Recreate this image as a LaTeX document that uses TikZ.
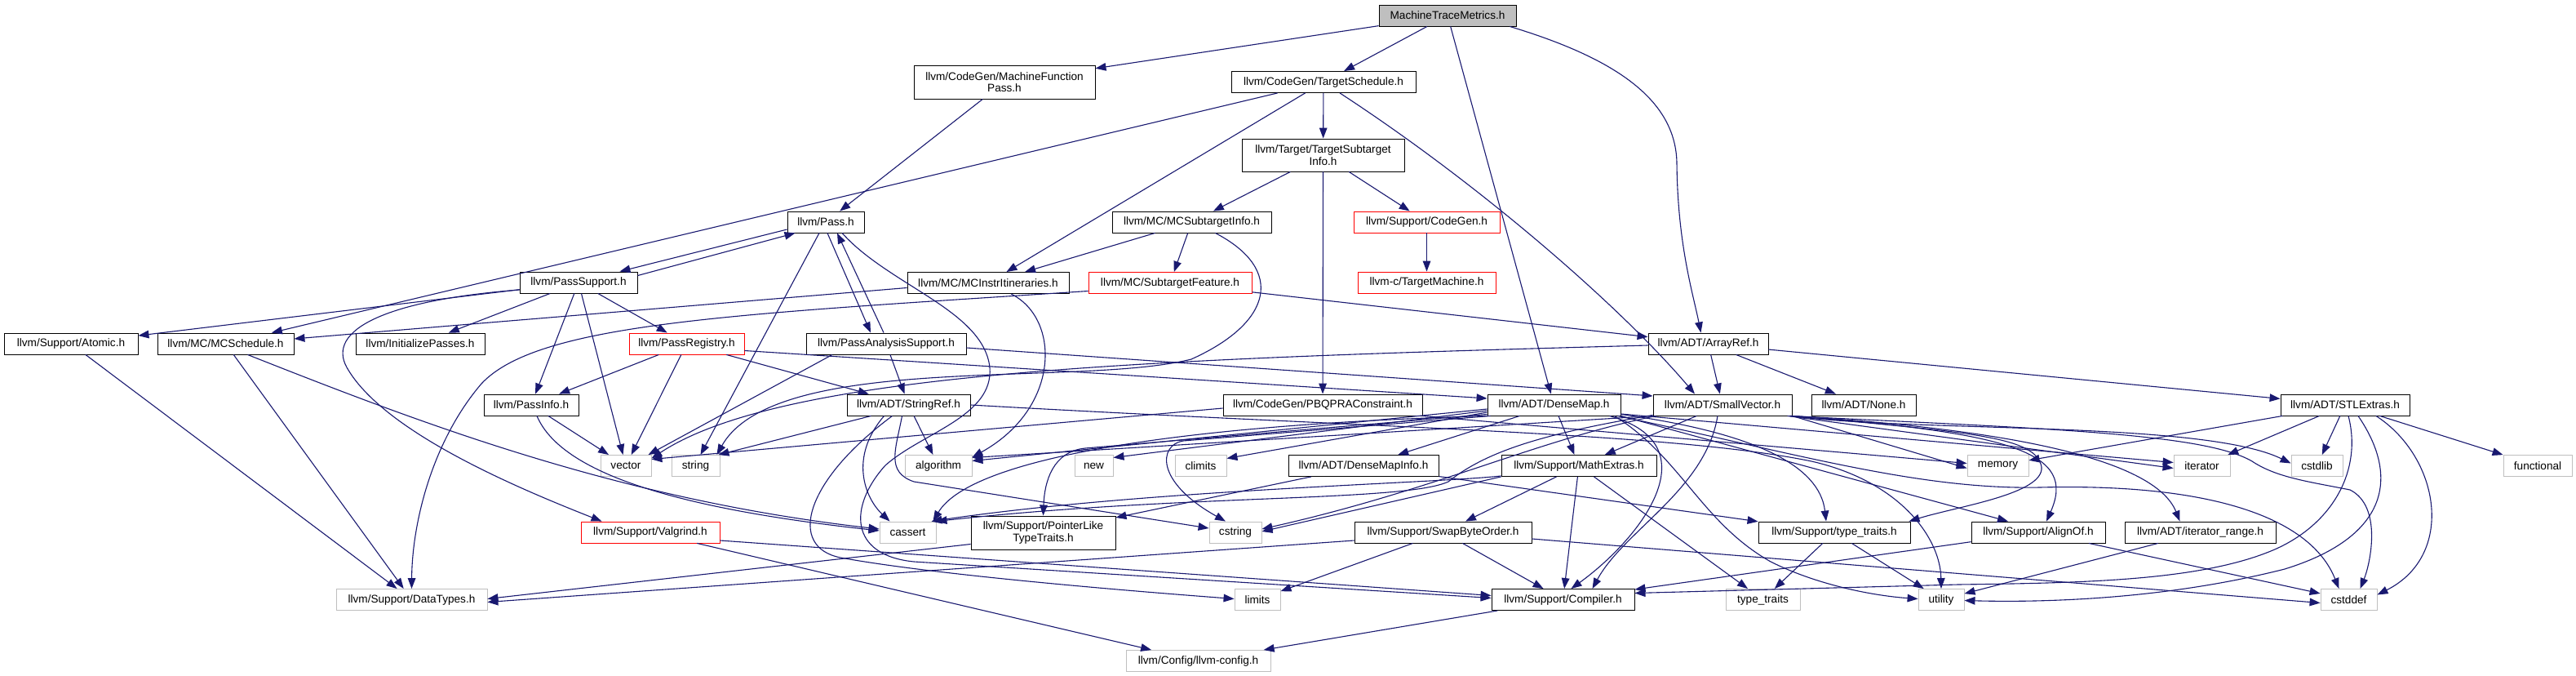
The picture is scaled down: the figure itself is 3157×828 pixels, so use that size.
\documentclass[tikz,border=0pt]{standalone}
\usepackage{fontspec}
\setmainfont{Liberation Sans}
\usetikzlibrary{arrows.meta,calc}
\definecolor{eblue}{HTML}{191970}
\definecolor{gborder}{HTML}{BFBFBF}
\definecolor{rborder}{HTML}{FF0000}
\definecolor{rootfill}{HTML}{BFBFBF}
\begin{document}
\begin{tikzpicture}[x=0.5pt,y=-0.5pt,
  box/.style={draw=black, line width=0.45pt, fill=white, rectangle, inner sep=0pt, align=center, minimum height=13pt, font=\fontsize{6.8}{7.2}\selectfont},
  redbox/.style={box, draw=rborder},
  sysbox/.style={box, draw=gborder},
  rootbox/.style={box, fill=rootfill},
  arr/.style={draw=eblue, line width=0.55pt, -{Triangle[length=6.5pt,width=4.8pt]}}]
\useasboundingbox (0,0) rectangle (3157,828);
% ---------------- nodes ----------------
\node[rootbox, minimum width=84pt] (mtm) at (1774,19) {MachineTraceMetrics.h};
\node[box, minimum width=111pt, minimum height=20.5pt] (mfp) at (1231,100.5) {llvm/CodeGen/MachineFunction\\Pass.h};
\node[box, minimum width=113pt] (ts) at (1622,100.5) {llvm/CodeGen/TargetSchedule.h};
\node[box, minimum width=99.5pt, minimum height=20pt] (tsi) at (1621.5,190) {llvm/Target/TargetSubtarget\\Info.h};
\node[box, minimum width=47pt] (pass) at (1012,272) {llvm/Pass.h};
\node[box, minimum width=97.5pt] (mcsi) at (1460.5,272) {llvm/MC/MCSubtargetInfo.h};
\node[redbox, minimum width=89.5pt] (cg) at (1748.5,272) {llvm/Support/CodeGen.h};
\node[box, minimum width=72pt] (ps) at (709,346) {llvm/PassSupport.h};
\node[box, minimum width=99pt] (mcii) at (1211,346.5) {llvm/MC/MCInstrItineraries.h};
\node[redbox, minimum width=100pt] (stf) at (1434,346.5) {llvm/MC/SubtargetFeature.h};
\node[redbox, minimum width=84.5pt] (tm) at (1748.5,346) {llvm-c/TargetMachine.h};
\node[box, minimum width=82pt] (atomic) at (87,421) {llvm/Support/Atomic.h};
\node[box, minimum width=83.5pt] (mcs) at (276.5,421) {llvm/MC/MCSchedule.h};
\node[box, minimum width=79pt] (ip) at (515,421) {llvm/InitializePasses.h};
\node[redbox, minimum width=70.5pt] (preg) at (841.5,421) {llvm/PassRegistry.h};
\node[box, minimum width=98pt] (pas) at (1086,421) {llvm/PassAnalysisSupport.h};
\node[box, minimum width=73.5pt] (ar) at (2093.5,421) {llvm/ADT/ArrayRef.h};
\node[box, minimum width=79pt] (stl) at (2874,496) {llvm/ADT/STLExtras.h};
\node[box, minimum width=58pt] (pi) at (651,496) {llvm/PassInfo.h};
\node[box, minimum width=75.5pt] (sr) at (1113.5,496) {llvm/ADT/StringRef.h};
\node[box, minimum width=122pt] (pbqp) at (1621,496) {llvm/CodeGen/PBQPRAConstraint.h};
\node[box, minimum width=81.5pt] (dm) at (1904.5,496) {llvm/ADT/DenseMap.h};
\node[box, minimum width=85pt] (sv) at (2111,496) {llvm/ADT/SmallVector.h};
\node[box, minimum width=64pt] (none) at (2284,496) {llvm/ADT/None.h};
\node[sysbox, minimum width=31pt] (vector) at (767,570.5) {vector};
\node[sysbox, minimum width=29.5pt] (string) at (852.5,570.5) {string};
\node[sysbox, minimum width=41pt] (algorithm) at (1150,570.5) {algorithm};
\node[sysbox, minimum width=23.5pt] (new) at (1340.5,570.5) {new};
\node[sysbox, minimum width=31.5pt] (climits) at (1471.5,570.5) {climits};
\node[box, minimum width=92pt] (dmi) at (1671,570.5) {llvm/ADT/DenseMapInfo.h};
\node[box, minimum width=95pt] (me) at (1935,570.5) {llvm/Support/MathExtras.h};
\node[sysbox, minimum width=37.5pt] (memory) at (2448.5,570.5) {memory};
\node[sysbox, minimum width=34.5pt] (iterator) at (2698.5,570.5) {iterator};
\node[sysbox, minimum width=31.5pt] (cstdlib) at (2839.5,570.5) {cstdlib};
\node[sysbox, minimum width=42pt] (functional) at (3110,570.5) {functional};
\node[redbox, minimum width=85pt] (valgrind) at (797,652) {llvm/Support/Valgrind.h};
\node[sysbox, minimum width=34.5pt] (cassert) at (1112.5,652) {cassert};
\node[box, minimum width=88.5pt, minimum height=20.5pt] (pltt) at (1278.5,652.5) {llvm/Support/PointerLike\\TypeTraits.h};
\node[sysbox, minimum width=32pt] (cstring) at (1514,652) {cstring};
\node[box, minimum width=108.5pt] (sbo) at (1768.5,652) {llvm/Support/SwapByteOrder.h};
\node[box, minimum width=93pt] (stt) at (2248,652) {llvm/Support/type\_traits.h};
\node[box, minimum width=82pt] (align) at (2498,652) {llvm/Support/AlignOf.h};
\node[box, minimum width=92.5pt] (itr) at (2696.5,652) {llvm/ADT/iterator\_range.h};
\node[sysbox, minimum width=92.5pt] (dt) at (504.5,734.5) {llvm/Support/DataTypes.h};
\node[sysbox, minimum width=28pt] (limits) at (1541,734.5) {limits};
\node[box, minimum width=87.5pt] (comp) at (1915.5,734.5) {llvm/Support/Compiler.h};
\node[sysbox, minimum width=45.5pt] (tt) at (2160.5,734.5) {type\_traits};
\node[sysbox, minimum width=28pt] (utility) at (2379,734.5) {utility};
\node[sysbox, minimum width=34.5pt] (cstddef) at (2878.5,734.5) {cstddef};
\node[sysbox, minimum width=88.5pt] (cfg) at (1468.5,809.5) {llvm/Config/llvm-config.h};
% ---------------- edges ----------------
% MachineTraceMetrics
\draw[arr] (mtm) -- (mfp);
\draw[arr] (mtm) -- (ts);
\draw[arr] (mtm) -- (dm);
\draw[arr] (mtm.-10) .. controls (1975,70) and (2054,120) .. (2055,200) .. controls (2056,300) and (2075,360) .. ($(ar.north)+(-9,0)$);
% MachineFunctionPass
\draw[arr] (mfp) -- (pass);
% TargetSchedule
\draw[arr] (ts) -- (mcs);
\draw[arr] (ts) -- (mcii);
\draw[arr] (ts) -- (tsi);
\draw[arr] ($(ts.south)+(20,0)$) .. controls (1820,230) and (1990,380) .. ($(sv.north)+(-34,0)$);
% TargetSubtargetInfo
\draw[arr] (tsi) -- (mcsi);
\draw[arr] (tsi) -- (cg);
\draw[arr] (tsi) -- (pbqp);
\draw[arr] (cg) -- (tm);
% Pass
\draw[arr] ($(pass.west)+(0,9)$) -- ($(ps.north east)+(-22,0)$);
\draw[arr] ($(ps.north east)+(0,5)$) -- ($(pass.south west)+(10,0)$);
\draw[arr] ($(pass.south)+(2,0)$) -- ($(pas.north)+(-19,0)$);
\draw[arr] ($(pas.north)+(-3,0)$) -- ($(pass.south)+(14,0)$);
\draw[arr] ($(pass.south)+(-8,0)$) -- ($(string.north)+(6,0)$);
\draw[arr] ($(pass.south)+(20,0)$) .. controls (1090,350) and (1205,380) .. (1213,450) .. controls (1218,510) and (1130,530) .. (1085,570) .. controls (1040,620) and (1040,680) .. (1120,688) -- ($(comp.west)+(0,-2)$);
% PassSupport
\draw[arr] (ps) -- (atomic);
\draw[arr] ($(ps.west)+(0,9)$) .. controls (470,368) and (400,405) .. (425,450) .. controls (470,530) and (640,600) .. ($(valgrind.north west)+(26,0)$);
\draw[arr] (ps) -- (ip);
\draw[arr] (ps) -- (pi);
\draw[arr] (ps) -- (vector);
\draw[arr] (ps) -- (preg);
% MCSubtargetInfo
\draw[arr] (mcsi) -- (mcii);
\draw[arr] (mcsi) -- (stf);
\draw[arr] ($(mcsi.south east)+(-69,0)$) .. controls (1575,330) and (1560,395) .. (1460,440) .. controls (1320,475) and (950,430) .. ($(string.north east)+(-4,0)$);
% MCInstrItineraries
\draw[arr] ($(mcii.west)+(0,6)$) -- ($(mcs.east)+(0,-6)$);
\draw[arr] ($(mcii.south)+(28,0)$) .. controls (1300,390) and (1300,500) .. ($(algorithm.north east)+(0,3)$);
% SubtargetFeature
\draw[arr] (stf) -- (ar);
\draw[arr] ($(stf.west)+(0,10)$) .. controls (900,385) and (660,395) .. (590,470) .. controls (530,540) and (505,640) .. (dt.north);
% PassRegistry
\draw[arr] (preg) -- (pi);
\draw[arr] (preg) -- (vector);
\draw[arr] (preg) -- (sr);
\draw[arr] ($(preg.east)+(0,8.5)$) -- ($(dm.west)+(0,-8)$);
% PassAnalysisSupport
\draw[arr] (pas) -- (sr);
\draw[arr] ($(pas.east)+(0,5)$) -- ($(sv.west)+(0,-11)$);
\draw[arr] ($(pas.south)+(-66,0)$) -- ($(vector.north east)+(-4,0)$);
% ArrayRef
\draw[arr] (ar) -- (none);
\draw[arr] (ar) -- (sv);
\draw[arr] (ar) -- (stl);
\draw[arr] ($(ar.west)+(0,2)$) .. controls (1400,440) and (960,455) .. ($(vector.east)+(0,-9)$);
% STLExtras
\draw[arr] (stl) -- (memory);
\draw[arr] (stl) -- (iterator);
\draw[arr] (stl) -- (cstdlib);
\draw[arr] (stl) -- (functional);
\draw[arr] ($(stl.south)+(38,0)$) .. controls (2990,560) and (3010,680) .. ($(cstddef.east)+(0,-6)$);
\draw[arr] ($(stl.south)+(16,0)$) .. controls (2945,590) and (2920,660) .. (2800,697) .. controls (2650,735) and (2500,738) .. ($(utility.east)+(0,1)$);
\draw[arr] ($(stl.south)+(4,0)$) .. controls (2895,575) and (2860,640) .. (2790,672) .. controls (2700,712) and (2550,714) .. (2400,716) -- ($(comp.east)+(0,-8)$);
% PassInfo
\draw[arr] (pi) -- (vector);
\draw[arr] ($(pi.south)+(7,0)$) .. controls (690,585) and (850,625) .. ($(cassert.west)+(0,-2)$);
% MCSchedule, Atomic
\draw[arr] (mcs) -- (dt);
\draw[arr] ($(mcs.south)+(27,0)$) .. controls (520,520) and (760,612) .. ($(cassert.west)+(0,-4)$);
\draw[arr] (atomic) -- (dt);
% StringRef
\draw[arr] ($(sr.south)+(-46,0)$) -- ($(string.north east)+(-2,0)$);
\draw[arr] (sr) -- (algorithm);
\draw[arr] ($(sr.south)+(-30,0)$) .. controls (1040,560) and (1060,610) .. ($(cassert.north)+(-22,0)$);
\draw[arr] ($(sr.south)+(-8,0)$) .. controls (1098,550) and (1085,578) .. (1120,590) -- ($(cstring.west)+(0,-5)$);
\draw[arr] ($(sr.south)+(-20,0)$) .. controls (985,590) and (965,670) .. (1030,683) .. controls (1150,705) and (1400,725) .. ($(limits.west)+(0,-1)$);
\draw[arr] (sr.east) .. controls (1700,525) and (2050,530) .. (2220,565) .. controls (2330,590) and (2378,660) .. (utility.north);
% PBQPRAConstraint
\draw[arr] ($(pbqp.west)+(0,4)$) -- ($(vector.east)+(0,-8)$);
\draw[arr] (pbqp.south east) -- ($(memory.west)+(0,-3)$);
% DenseMap
\draw[arr] (dm) -- (dmi);
\draw[arr] (dm) -- (me);
\draw[arr] ($(dm.south east)+(-14,0)$) .. controls (2100,545) and (2010,660) .. ($(comp.north)+(10,0)$);
\draw[arr] ($(dm.south west)+(0,-2)$) -- (1330,549) .. controls (1290,553) and (1280,590) .. (pltt.north);
\draw[arr] ($(dm.south east)+(0,-2)$) .. controls (2150,530) and (2230,570) .. ($(stt.north)+(-10,0)$);
\draw[arr] (dm.south east) -- ($(align.north)+(-37,0)$);
\draw[arr] ($(dm.east)+(0,11)$) -- ($(iterator.west)+(0,-4)$);
\draw[arr] ($(dm.west)+(0,7)$) -- ($(new.east)+(0,-10)$);
\draw[arr] ($(dm.west)+(0,9)$) -- ($(climits.east)+(0,-9)$);
\draw[arr] ($(dm.west)+(0,5)$) -- ($(algorithm.east)+(0,-6)$);
\draw[arr] (dm.south west) .. controls (1450,520) and (1190,560) .. ($(cassert.north east)+(-4,0)$);
\draw[arr] ($(dm.south west)+(4,0)$) -- (1450,540) .. controls (1420,545) and (1415,590) .. ($(cstring.north)+(-12,0)$);
\draw[arr] ($(dm.south east)+(-4,0)$) .. controls (2200,555) and (2350,600) .. (2500,597) .. controls (2700,592) and (2830,630) .. ($(cstddef.north)+(-12,0)$);
\draw[arr] ($(dm.south east)+(-8,0)$) .. controls (2060,560) and (2085,640) .. (2170,688) .. controls (2230,718) and (2300,730) .. ($(utility.west)+(0,-1)$);
% SmallVector
\draw[arr] (sv) -- (me);
\draw[arr] ($(sv.south)+(-6,0)$) .. controls (2090,600) and (1990,650) .. ($(comp.north)+(36,0)$);
\draw[arr] (sv.south west) -- ($(algorithm.east)+(0,-10)$);
\draw[arr] ($(sv.south west)+(0,-1)$) .. controls (1900,530) and (1825,550) .. (1775,590) .. controls (1720,615) and (1450,605) .. (cassert.north east);
\draw[arr] ($(sv.south west)+(4,0)$) .. controls (1880,540) and (1760,600) .. ($(cstring.east)+(0,-4)$);
\draw[arr] (sv.south east) .. controls (2420,530) and (2495,535) .. (2502,572) .. controls (2505,605) and (2400,620) .. ($(stt.north east)+(-2,0)$);
\draw[arr] ($(sv.south east)+(-2,0)$) .. controls (2470,530) and (2545,555) .. ($(align.north)+(10,0)$);
\draw[arr] ($(sv.south east)+(-1,0)$) .. controls (2450,525) and (2640,560) .. ($(itr.north)+(-25,0)$);
\draw[arr] (sv.south east) -- ($(memory.west)+(0,3)$);
\draw[arr] ($(sv.south east)+(-6,0)$) -- ($(iterator.west)+(0,3)$);
\draw[arr] ($(sv.south east)+(-2,0)$) .. controls (2350,530) and (2700,515) .. ($(cstdlib.west)+(0,-3)$);
\draw[arr] ($(sv.south east)+(-3,0)$) .. controls (2500,525) and (2700,530) .. (2760,565) .. controls (2790,585) and (2830,590) .. (2880,600) .. controls (2920,620) and (2905,690) .. ($(cstddef.north)+(14,0)$);
% MathExtras
\draw[arr] (me) -- (sbo);
\draw[arr] (me) -- (comp);
\draw[arr] (me) -- (tt);
\draw[arr] (me.south west) -- ($(cstring.east)+(0,-1)$);
\draw[arr] ($(me.south west)+(0,-1)$) .. controls (1760,592) and (1400,600) .. ($(cassert.north east)+(-6,0)$);
% DenseMapInfo, PointerLikeTypeTraits
\draw[arr] (dmi) -- (pltt);
\draw[arr] (dmi) -- (stt);
\draw[arr] ($(pltt.west)+(0,14)$) -- ($(dt.east)+(0,-1)$);
% SwapByteOrder
\draw[arr] (sbo) -- (comp);
\draw[arr] (sbo) -- (limits);
\draw[arr] ($(sbo.west)+(0,10)$) -- ($(dt.east)+(0,3)$);
\draw[arr] ($(sbo.east)+(0,8)$) -- ($(cstddef.west)+(0,4)$);
% type_traits.h, AlignOf, iterator_range
\draw[arr] (stt) -- (tt);
\draw[arr] (stt) -- (utility);
\draw[arr] (align) -- (comp);
\draw[arr] (align) -- (cstddef);
\draw[arr] (itr) -- (utility);
% Valgrind, Compiler
\draw[arr] ($(valgrind.east)+(0,10)$) -- ($(comp.west)+(0,-5)$);
\draw[arr] (valgrind) -- (cfg);
\draw[arr] (comp) -- (cfg);
\end{tikzpicture}
\end{document}
